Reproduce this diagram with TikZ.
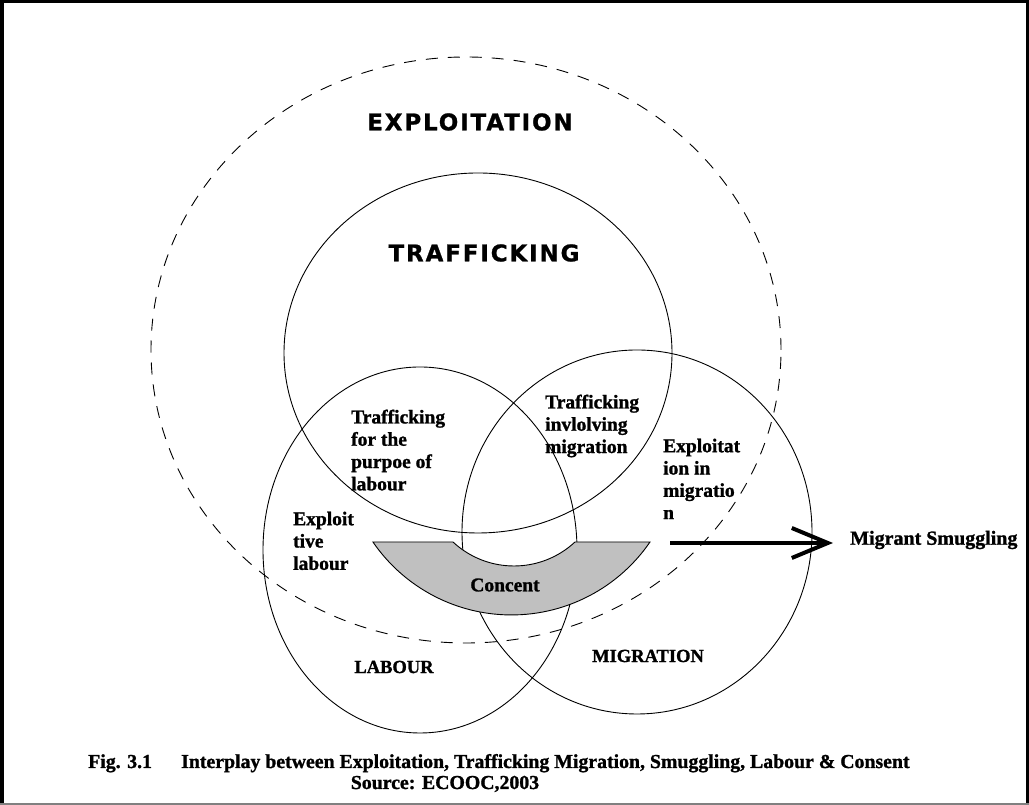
\documentclass[tikz,border=0pt]{standalone}
\usepackage{fontspec}
\setmainfont{Liberation Serif}[BoldFeatures={FakeBold=1.2}]
\newfontfamily\comicfont{DejaVu Sans}[LetterSpace=8,BoldFeatures={FakeBold=1}]
\usetikzlibrary{arrows.meta}
\definecolor{concentgray}{RGB}{192,192,192}
\begin{document}
\begin{tikzpicture}[x=1pt,y=1pt,
  ring/.style={draw=black,line width=0.9pt},
  dashring/.style={draw=black,line width=0.9pt,dash pattern=on 12pt off 10pt},
  bigtitle/.style={font=\comicfont\fontsize{23}{25}\selectfont\bfseries,inner sep=0},
  lab/.style={font=\fontsize{19.5}{22.3}\selectfont\bfseries,align=left,inner sep=0,anchor=north west},
  caplab/.style={font=\fontsize{19.8}{21}\selectfont\bfseries,inner sep=0},
  setlab/.style={font=\fontsize{18.5}{20}\selectfont\bfseries,inner sep=0},
  bigarrow/.style={line width=4pt,-{Straight Barb[length=36pt,width=30pt]}}
]
\useasboundingbox (0,0) rectangle (1029,805);
\fill[white] (0,0) rectangle (1029,805);
% frame
\draw[line width=3.5pt] (1.75,0) -- (1.75,803.25) -- (1027.25,803.25) -- (1027.25,0);
\draw[gray,line width=1.5pt] (0,1) -- (1029,1);

% sets
\draw[dashring] (466,455) ellipse [x radius=315, y radius=293];
\draw[ring] (478,452) ellipse [x radius=194, y radius=180];
\draw[ring] (420,255) ellipse [x radius=157, y radius=183];
\draw[ring] (637,273) ellipse [x radius=175, y radius=182];

% concent band
\draw[ring,fill=concentgray] (373,263) -- (453,263)
  arc[start angle=227.04, end angle=312.96, radius=89.5] -- (650,263)
  arc[start angle=325.55, end angle=214.45, radius=168] -- cycle;

% labels
\node[bigtitle] (expl) at (470,683) {EXPLOITATION};
\node[bigtitle] (traf) at (484,552) {TRAFFICKING};
\node[lab] (tlab) at (351,395.5) {Trafficking\\for the\\purpoe of\\labour};
\node[lab] (tmig) at (545,410.5) {Trafficking\\invlolving\\migration};
\node[lab] (emig) at (663,366.5) {Exploitat\\ion in\\migratio\\n};
\node[lab] (elab) at (293,293.5) {Exploit\\tive\\labour};
\node[font=\fontsize{19.5}{22}\selectfont\bfseries,inner sep=0] (conc) at (505,220) {Concent};
\node[setlab] (labour) at (394,138) {LABOUR};
\node[setlab] (migr) at (648,149) {MIGRATION};
\node[font=\fontsize{20}{22}\selectfont\bfseries,inner sep=0,anchor=west] (smug) at (850,265) {Migrant Smuggling};

% arrow
\coordinate (astart) at (670,262);
\draw[bigarrow,shorten >=17pt] (astart) -- (astart -| smug.west);

% caption
\node[caplab,anchor=base west] (fig) at (88,37) {Fig. 3.1};
\node[caplab,anchor=base west] (capt) at (181,37) {Interplay between Exploitation, Trafficking Migration, Smuggling, Labour \& Consent};
\node[caplab,anchor=base] (src) at (445,16) {Source: ECOOC,2003};
\end{tikzpicture}
\end{document}
